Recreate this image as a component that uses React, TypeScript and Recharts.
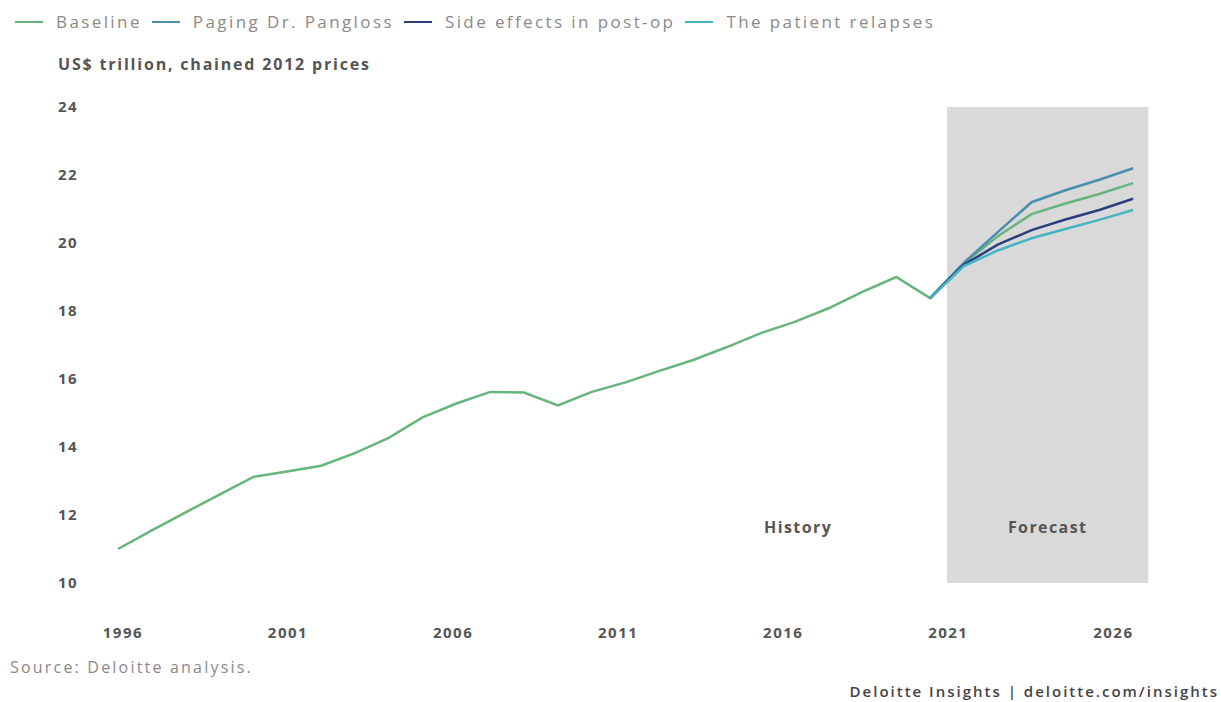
import React from "react"
import {
  LineChart, Line, XAxis, YAxis, ReferenceArea, ReferenceDot,
} from "recharts"

// Real GDP, US$ trillion (chained 2012 prices)
const historyYears = [
  1996, 1997, 1998, 1999, 2000, 2001, 2002, 2003, 2004, 2005, 2006, 2007, 2008,
  2009, 2010, 2011, 2012, 2013, 2014, 2015, 2016, 2017, 2018, 2019, 2020,
]
const historyValues = [
  11.0, 11.55, 12.08, 12.6, 13.12, 13.28, 13.45, 13.82, 14.27, 14.87, 15.28, 15.62, 15.6,
  15.22, 15.62, 15.9, 16.24, 16.56, 16.94, 17.35, 17.68, 18.08, 18.56, 19.0, 18.38,
]

// forecast years start from the last actual (2020)
const forecastYears = [2020, 2021, 2022, 2023, 2024, 2025, 2026]
const baseline = [18.38, 19.4, 20.2, 20.85, 21.16, 21.44, 21.76]
const pangloss = [18.38, 19.42, 20.32, 21.2, 21.55, 21.86, 22.2]
const sideEffects = [18.38, 19.36, 19.95, 20.38, 20.69, 20.97, 21.3]
const relapses = [18.38, 19.32, 19.78, 20.14, 20.41, 20.68, 20.97]

const yTicks = [10, 12, 14, 16, 18, 20, 22, 24]
const xTicks = [1996, 2001, 2006, 2011, 2016, 2021, 2026]

const series = [
  { key: "baseline", name: "Baseline", color: "#66b57e" },
  { key: "pangloss", name: "Paging Dr. Pangloss", color: "#4a8fae" },
  { key: "sideEffects", name: "Side effects in post-op", color: "#2a3f7e" },
  { key: "relapses", name: "The patient relapses", color: "#45b4c4" },
]

const data = [
  ...historyYears.map((year, i) => ({
    year,
    baseline: historyValues[i],
    pangloss: null as number | null,
    sideEffects: null as number | null,
    relapses: null as number | null,
  })),
  ...forecastYears.slice(1).map((year, i) => ({
    year,
    baseline: baseline[i + 1],
    pangloss: pangloss[i + 1],
    sideEffects: sideEffects[i + 1],
    relapses: relapses[i + 1],
  })),
]
// scenarios branch off the 2020 point
const last = data[historyYears.length - 1]
last.pangloss = pangloss[0]
last.sideEffects = sideEffects[0]
last.relapses = relapses[0]

const font = "'Open Sans', sans-serif"
const tickStyle = { fontSize: 15, fontWeight: 700, fill: "#555", fontFamily: font, letterSpacing: 1.5 }
const noteStyle = { ...tickStyle, fontSize: 16, letterSpacing: 1.4 }

export default function App() {
  return (
    <div style={{ position: "absolute", left: 0, top: 0, width: 1221, height: 702, background: "#fff", fontFamily: font }}>
      <div style={{ position: "absolute", left: 15, top: 10, display: "flex", alignItems: "center", fontSize: 17, color: "#8a8a8a", letterSpacing: 2.4, whiteSpace: "nowrap" }}>
        {series.map((s) => (
          <div key={s.key} style={{ display: "flex", alignItems: "center", marginRight: 10 }}>
            <span style={{ display: "inline-block", width: 28, height: 2, background: s.color, marginRight: 13 }} />
            <span>{s.name}</span>
          </div>
        ))}
      </div>
      <div style={{ position: "absolute", left: 58, top: 53, fontSize: 16, fontWeight: 700, color: "#555", letterSpacing: 1.8, whiteSpace: "nowrap" }}>
        US$ trillion, chained 2012 prices
      </div>

      <LineChart width={1221} height={702} data={data} margin={{ top: 107, right: 71, bottom: 59, left: 0 }}>
        <XAxis dataKey="year" type="number" domain={[1996, 2026.5]} height={0} hide />
        {/* year labels sit on their own, slightly narrower scale */}
        <XAxis
          xAxisId="labels"
          dataKey="year"
          type="number"
          domain={[1995.85, 2027.11]}
          allowDataOverflow
          ticks={xTicks}
          axisLine={false}
          tickLine={false}
          height={60}
          tickMargin={38}
          tick={tickStyle}
        />
        <YAxis
          domain={[10, 24]}
          ticks={yTicks}
          axisLine={false}
          tickLine={false}
          width={118}
          tickMargin={54}
          tick={{ ...tickStyle, textAnchor: "start" }}
        />
        <ReferenceArea
          x1={2020.5}
          x2={2026.45}
          y1={10}
          y2={24}
          fill="#d9d9d9"
          fillOpacity={1}
          stroke="none"
          label={{ value: "Forecast", position: "insideBottom", offset: 50, ...noteStyle }}
        />
        <ReferenceDot
          x={2016.1}
          y={11.65}
          r={0}
          stroke="none"
          label={{ value: "History", position: "center", ...noteStyle }}
        />
        {series.map((s) => (
          <Line
            key={s.key}
            dataKey={s.key}
            name={s.name}
            stroke={s.color}
            strokeWidth={2.5}
            dot={false}
            connectNulls={false}
            isAnimationActive={false}
          />
        ))}
      </LineChart>

      <div style={{ position: "absolute", left: 10, top: 656, fontSize: 16, color: "#8a8a8a", letterSpacing: 2.2 }}>
        Source: Deloitte analysis.
      </div>
      <div style={{ position: "absolute", right: 2, top: 681, fontSize: 15, fontWeight: 600, color: "#444", letterSpacing: 2, whiteSpace: "nowrap" }}>
        Deloitte Insights | deloitte.com/insights
      </div>
    </div>
  )
}
